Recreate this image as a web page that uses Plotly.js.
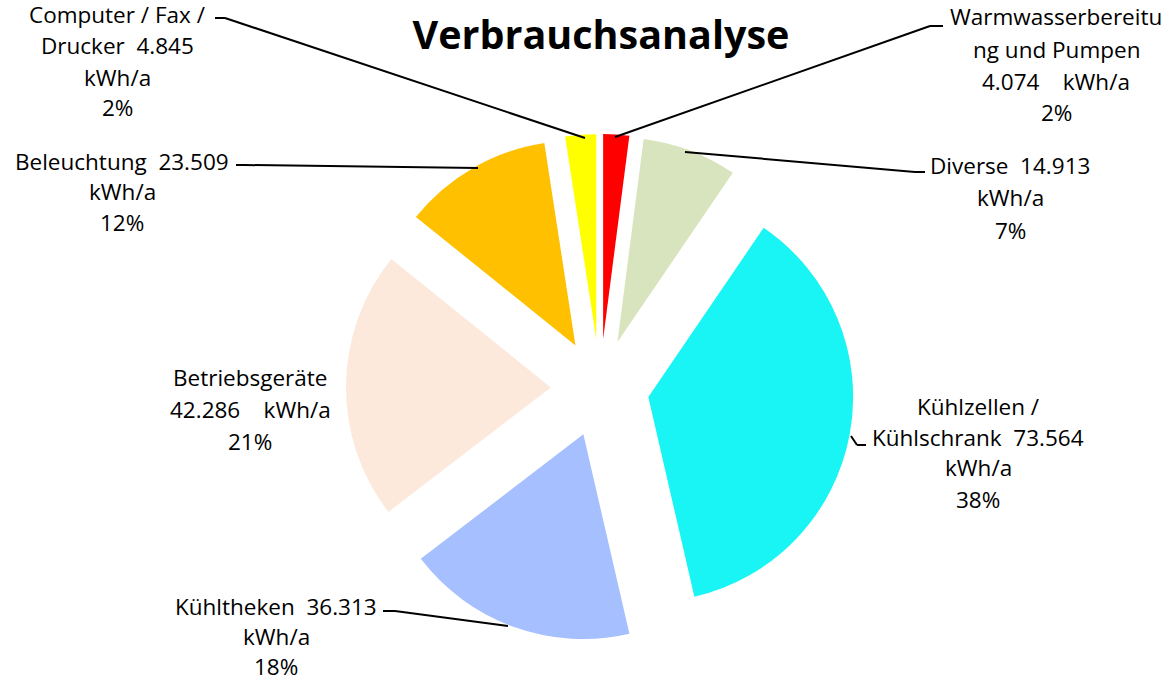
<!DOCTYPE html>
<html>
<head>
<meta charset="utf-8">
<script src="https://cdn.plot.ly/plotly-3.0.1.min.js"></script>
<style>html,body{margin:0;padding:0;background:#fff;}#chart{width:1168px;height:682px;}</style>
</head>
<body>
<div id="chart"></div>
<script>
// Data (clockwise from 12 o'clock)
const categories = ["Warmwasserbereitung und Pumpen", "Diverse", "Kühlzellen / Kühlschrank", "Kühltheken", "Betriebsgeräte", "Beleuchtung", "Computer / Fax / Drucker"];
const values = [4074, 14913, 73564, 36313, 42286, 23509, 4845];
const percentLabels = ["2%", "7%", "38%", "18%", "21%", "12%", "2%"];
const colors = ["#FF0000", "#D7E4BD", "#19F4F4", "#A6BFFF", "#FCE9DC", "#FFC000", "#FFFF00"];
// Label line templates as wrapped in the original ({v} = value, {p} = percent)
const labelTemplates = [
  ["Warmwasserbereitu", "ng und Pumpen", "{v}    kWh/a", "{p}"],
  ["Diverse  {v}", "kWh/a", "{p}"],
  ["Kühlzellen /", "Kühlschrank  {v}", "kWh/a", "{p}"],
  ["Kühltheken  {v}", "kWh/a", "{p}"],
  ["Betriebsgeräte", "{v}    kWh/a", "{p}"],
  ["Beleuchtung  {v}", "kWh/a", "{p}"],
  ["Computer / Fax /", "Drucker  {v}", "kWh/a", "{p}"]
];

// layout positions (pixels) for label blocks: center x, first line y, line step
const W = 1168, H = 682;
const labelPos = [
  [1056, 17, 32],
  [1010, 165, 33],
  [978, 406, 31],
  [276, 606, 30],
  [250, 378, 31.5],
  [122, 161, 31],
  [117, 15, 31]
];
// leader lines (pixel polylines)
const leaders = [
  [[615, 137], [930, 26], [943, 26]],
  [[685, 152], [915, 172], [925, 172]],
  [[851, 436], [857, 445], [866, 445]],
  [[508, 626], [395, 611], [383, 611]],
  null,
  [[478, 168], [245, 165], [236, 165]],
  [[585, 138], [225, 18], [215, 18]]
];

function fmt(n) { return String(n).replace(/\B(?=(\d{3})+(?!\d))/g, "."); }
const px = x => x / W, py = y => 1 - y / H;
const FONT = "'Open Sans', Lato, sans-serif";

const annotations = [];
labelTemplates.forEach((lines, i) => {
  const [cx, y0, step] = labelPos[i];
  lines.forEach((t, k) => {
    const txt = t.replace("{v}", fmt(values[i])).replace("{p}", percentLabels[i]);
    annotations.push({
      xref: "paper", yref: "paper", x: px(cx), y: py(y0 + k * step),
      xanchor: "center", yanchor: "middle", showarrow: false, borderpad: 0,
      text: txt, font: {family: FONT, size: 22.5, color: "#000"}
    });
  });
});

const shapes = [];
leaders.forEach(pl => {
  if (!pl) return;
  for (let k = 0; k < pl.length - 1; k++) {
    shapes.push({type: "line", xref: "paper", yref: "paper",
      x0: px(pl[k][0]), y0: py(pl[k][1]), x1: px(pl[k+1][0]), y1: py(pl[k+1][1]),
      line: {color: "#000", width: 2}});
  }
});

const trace = {
  type: "pie",
  labels: categories,
  values: values,
  sort: false,
  direction: "clockwise",
  rotation: 0,
  pull: values.map(() => 0.24),
  marker: {colors: colors, line: {width: 0}},
  textinfo: "none",
  hoverinfo: "label+value+percent",
  showlegend: false,
  domain: {x: [346 / W, 854 / W], y: [1 - 642 / H, 1 - 134 / H]}
};

const layout = {
  width: W, height: H,
  margin: {l: 0, r: 0, t: 0, b: 0},
  paper_bgcolor: "#fff",
  title: {text: "<b>Verbrauchsanalyse</b>", x: 601 / W, xanchor: "center", y: 1 - 35 / H, yanchor: "middle",
    font: {family: FONT, size: 39.5, color: "#000"}},
  annotations: annotations,
  shapes: shapes,
  showlegend: false
};

Plotly.newPlot("chart", [trace], layout, {displayModeBar: false, staticPlot: true});
</script>
</body>
</html>
